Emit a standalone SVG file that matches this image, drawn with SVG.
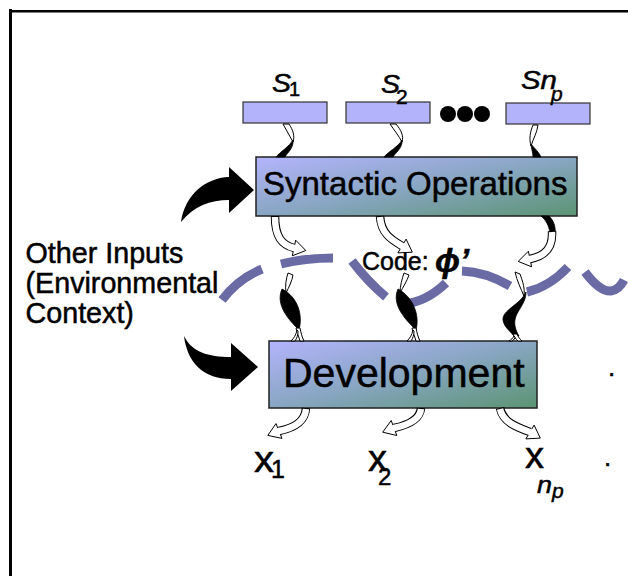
<svg xmlns="http://www.w3.org/2000/svg" width="628" height="576" viewBox="0 0 628 576">
<defs>
<linearGradient id="grad" x1="0" y1="0" x2="1" y2="1">
<stop offset="0" stop-color="#b4b4fd"/>
<stop offset="0.5" stop-color="#88a6c2"/>
<stop offset="1" stop-color="#5b9472"/>
</linearGradient>
<style>
.t{font-family:"Liberation Sans",Arial,sans-serif;fill:#000;stroke:#000;stroke-width:0.5}
.i{font-style:italic}
.sbox{fill:#b3b3fb;stroke:#333;stroke-width:1.2}
.bbox{fill:url(#grad);stroke:#222;stroke-width:1.5}
.wave{fill:none;stroke:#6a6aa5;stroke-width:9;stroke-linecap:butt}
.rw{fill:#fff;stroke:#000;stroke-width:1}
.rb{fill:#000;stroke:#000;stroke-width:0.8}
.hb{fill:none;stroke:#000;stroke-width:8.5}
.hw{fill:none;stroke:#fff;stroke-width:6.5}
.hh{fill:#fff;stroke:#000;stroke-width:1}
.big{fill:#000}
</style>
</defs>
<rect width="628" height="576" fill="#fff"/>
<g id="frame">
<rect x="9" y="9" width="3" height="567" fill="#000"/>
<rect x="9" y="10" width="619" height="2.5" fill="#000"/>
</g>
<g id="wave">
<path class="wave" d="M222,300 Q238,279 262,269"/>
<path class="wave" d="M281,264 Q305,258 333,258"/>
<path class="wave" d="M352,261 Q368,282 386,297"/>
<path class="wave" d="M404,304 Q426,302 446,283"/>
<path class="wave" d="M462,271 Q486,272 510,286"/>
<path class="wave" d="M527,292 Q549,287 568,267"/>
<path class="wave" d="M585,272 Q600,292 611,291 Q619,290 624,280"/>
</g>
<g id="s1">
<rect class="sbox" x="243" y="102" width="84" height="21"/>
<text class="t i" x="272" y="92" font-size="26" textLength="19" lengthAdjust="spacingAndGlyphs">S</text>
<text class="t" x="289" y="96" font-size="20">1</text>
</g>
<g id="s2">
<rect class="sbox" x="346" y="102" width="84" height="21"/>
<text class="t i" x="381" y="93" font-size="26" textLength="19" lengthAdjust="spacingAndGlyphs">S</text>
<text class="t" x="396" y="104" font-size="21">2</text>
</g>
<g id="dots">
<circle cx="448" cy="114" r="8" fill="#000"/>
<circle cx="465" cy="114" r="8" fill="#000"/>
<circle cx="482" cy="114" r="8" fill="#000"/>
</g>
<g id="snp">
<rect class="sbox" x="506" y="103" width="84" height="21"/>
<text class="t i" x="521" y="89" font-size="25" textLength="36" lengthAdjust="spacingAndGlyphs">Sn</text>
<text class="t i" x="551" y="101" font-size="21">p</text>
</g>
<g id="syntactic">
<rect class="bbox" x="256" y="157" width="321" height="59"/>
<text class="t" x="263" y="195" font-size="33">Syntactic Operations</text>
</g>
<g id="development">
<rect class="bbox" x="269" y="341" width="268" height="67"/>
<text class="t" x="283" y="387" font-size="41">Development</text>
</g>
<g id="inputs">
<text class="t" x="25.5" y="263" font-size="28.7">Other Inputs</text>
<text class="t" x="25.5" y="293" font-size="28.7">(Environmental</text>
<text class="t" x="25.5" y="323" font-size="28.7">Context)</text>
</g>
<g id="code">
<text class="t" x="362" y="270" font-size="25">Code:</text>
<text class="t" x="435" y="272" font-size="33" font-style="italic" font-weight="bold">ϕ’</text>
</g>
<g id="outputs">
<text class="t" x="254" y="472" font-size="37" stroke-width="1.2" textLength="20" lengthAdjust="spacingAndGlyphs">x</text>
<text class="t" x="271" y="478" font-size="25">1</text>
<text class="t" x="368" y="471" font-size="37" stroke-width="1.2" textLength="19" lengthAdjust="spacingAndGlyphs">x</text>
<text class="t" x="378" y="485" font-size="24">2</text>
<text class="t" x="525" y="468" font-size="37" stroke-width="1.2" textLength="19" lengthAdjust="spacingAndGlyphs">x</text>
<text class="t i" x="537" y="493" font-size="23" textLength="15" lengthAdjust="spacingAndGlyphs">n</text>
<text class="t i" x="552" y="498" font-size="21">p</text>
</g>
<g id="marks">
<text class="t" x="608" y="376" font-size="26">.</text>
<text class="t" x="604" y="466" font-size="26">.</text>
</g>
<g id="connectors">
<path class="big" d="M181,222 C185,195 205,178 229,177 L229,167 L254,190 L229,213 L229,200 C210,200 194,206 181,222 Z"/>
<path class="big" d="M184,336 C192,352 208,357 231,357 L231,343 L258,367 L231,391 L231,379 C203,379 187,362 184,336 Z"/>
<path class="rw" d="M283,124 L289,124 C293,130 295,136 293,142 C290,136 286,130 283,124 Z"/>
<path class="rb" d="M293,140 C294,148 287,153 285,157 L276,157 C281,151 289,147 293,140 Z"/>
<path class="rw" d="M390,124 L396,124 C401,130 404,136 402,142 C399,136 394,130 390,124 Z"/>
<path class="rb" d="M402,140 C403,148 395,153 393,157 L384,157 C389,151 398,147 402,140 Z"/>
<path class="rw" d="M533,125 L538,125 C537,133 533,139 531,146 C529,139 530,132 533,125 Z"/>
<path class="rb" d="M531,144 C534,148 539,152 541,157 L533,157 C533,152 531,148 531,144 Z"/>
<path class="hb" d="M275,216 C275,237 282,245 294,248"/>
<polygon class="hh" points="295.7,240.2 305.8,250.5 292.3,255.8"/>
<path class="hw" d="M275,217 C275,237 282,245 294,248 L296,248.4"/>
<path class="hb" d="M380,216 C381,234 392,240 402,246"/>
<polygon class="hh" points="406.1,239.1 412.3,252.2 397.9,252.9"/>
<path class="hw" d="M380,217 C381,234 392,240 402,246 L403.7,247"/>
<path class="rb" d="M541,216 L549,216 C553,220 556,226 555,233 L550,233 C549,226 546,220 541,216 Z"/>
<path class="hb" d="M552,231 C553,248 545,256 530,259"/>
<polygon class="hh" points="528.4,251.2 518.2,261.4 531.6,266.8"/>
<path class="hw" d="M552,232 C553,248 545,256 530,259 L528,259.4"/>
<path class="rw" d="M288,273 L293,275 C292,281 289,287 286,293 C285,286 286,279 288,273 Z"/>
<path class="rb" d="M282,289 C298,297 303,315 299,330 C289,320 275,305 282,289 Z"/>
<path class="rw" d="M296,328 L300,328 C301,333 302,337 304,341 L300,341 C299,337 297,333 296,328 Z"/>
<path class="rw" d="M297,330 C296,335 294,338 291,341 L295,341 C297,338 298,335 298,331 Z"/>
<path class="rw" d="M404,273 L409,275 C407,281 403,287 400,293 C400,286 402,279 404,273 Z"/>
<path class="rb" d="M398,289 C413,297 420,315 416,330 C406,320 391,305 398,289 Z"/>
<path class="rw" d="M412,328 L416,328 C417,333 418,337 420,341 L416,341 C415,337 413,333 412,328 Z"/>
<path class="rw" d="M413,330 C412,335 410,338 407,341 L411,341 C413,338 414,335 414,331 Z"/>
<path class="rw" d="M515,272 L520,274 C523,282 525,289 524,296 C521,289 517,281 515,272 Z"/>
<path class="rb" d="M526,292 C520,305 502,310 503,320 C504,327 510,331 514,336 L519,336 C514,328 513,320 518,312 C522,305 526,300 526,292 Z"/>
<path class="rw" d="M513,334 L517,334 C518,337 520,339 522,341 L518,341 C516,339 514,337 513,334 Z"/>
<path class="rw" d="M514,336 C513,338 511,340 509,341 L512,341 C514,340 515,338 515,337 Z"/>
<path class="hb" d="M306,408 C305,422 294,428 279,431"/>
<polygon class="hh" points="276,423.6 267.8,435.4 282,438.4"/>
<path class="hw" d="M306,409 C305,422 294,428 279,431 L277,431.8"/>
<path class="hb" d="M421,408 C420,420 408,425 394,428"/>
<polygon class="hh" points="391.2,420.5 382.7,432.2 396.8,435.5"/>
<path class="hw" d="M421,409 C420,420 408,425 394,428 L392,428.8"/>
<path class="hb" d="M500,408 C503,422 516,427 530,432"/>
<polygon class="hh" points="534.1,425.1 540.3,438.1 525.9,438.9"/>
<path class="hw" d="M500,409 C503,422 516,427 530,432 L531.7,433"/>
</g>
</svg>
